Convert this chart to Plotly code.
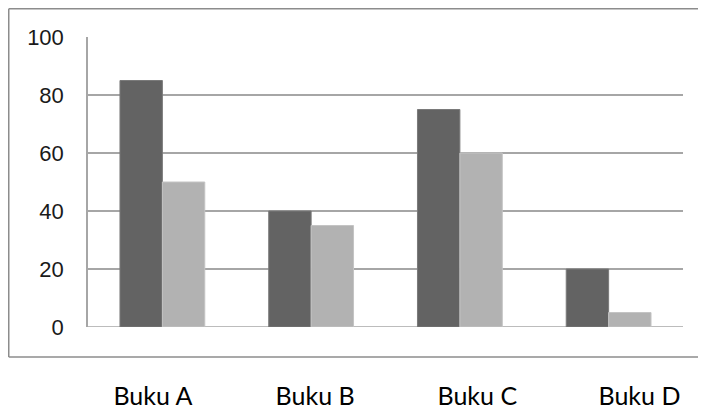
import plotly.graph_objects as go

categories = ["Buku A", "Buku B", "Buku C", "Buku D"]
series1 = [85, 40, 75, 20]
series2 = [50, 35, 60, 5]
y_ticks = [0, 20, 40, 60, 80, 100]

fig = go.Figure()
fig.add_trace(go.Bar(x=categories, y=series1, marker=dict(color="#636363", line=dict(color="#7a7a7a", width=1)), showlegend=False))
fig.add_trace(go.Bar(x=categories, y=series2, marker=dict(color="#b2b2b2", line=dict(color="#c4c4c4", width=1)), showlegend=False))
# invisible carrier trace for the separately spaced category label row
fig.add_trace(go.Scatter(x=categories, y=series1, xaxis="x2", mode="markers",
                         marker=dict(opacity=0), hoverinfo="skip", showlegend=False))

# page is offset by the 8px body margin; figure coords = page coords - 8
W, H = 706, 409
L, T = 80, 29
R = W - (683 - 8)
B = H - (327 - 8)
pw, ph = W - L - R, H - T - B

def px_x(p):
    return (p - L) / pw

def px_y(p):
    return (H - B - p) / ph

border = dict(color="#8c8c8c", width=1.5)
xl, xr = px_x(0.75), px_x(720)
yb, yt = px_y(357 - 8), px_y(0.75)

fig.update_layout(
    width=W, height=H,
    margin=dict(l=L, r=R, t=T, b=B, pad=0),
    plot_bgcolor="white", paper_bgcolor="white",
    barmode="group", bargap=0.43, bargroupgap=0,
    xaxis=dict(
        showgrid=False, showline=False, ticks="", zeroline=False,
        automargin=False, showticklabels=False,
    ),
    xaxis2=dict(
        overlaying="x", side="bottom", type="category",
        range=[-0.4005, 3.2685],
        showgrid=False, showline=False, ticks="", zeroline=False,
        automargin=False,
        tickfont=dict(family="Lato", size=25, color="#000000"),
        ticklabelstandoff=52,
    ),
    yaxis=dict(
        range=[0, 100], tickvals=y_ticks, ticktext=[str(v) for v in y_ticks],
        showgrid=True, gridcolor="#a6a6a6", gridwidth=1.5,
        showline=True, linecolor="#a6a6a6", linewidth=1.5,
        zeroline=False, ticks="", ticklabelstandoff=18, automargin=False,
        tickfont=dict(family="Liberation Sans", size=22, color="#1a1a1a"),
    ),
    shapes=[
        dict(type="line", xref="paper", yref="paper", x0=xl, x1=xr, y0=yt, y1=yt, line=border, layer="below"),
        dict(type="line", xref="paper", yref="paper", x0=xl, x1=xr, y0=yb, y1=yb, line=border, layer="below"),
        dict(type="line", xref="paper", yref="paper", x0=xl, x1=xl, y0=yb, y1=yt, line=border, layer="below"),
        dict(type="line", xref="paper", yref="y", x0=0, x1=1, y0=0, y1=0,
             line=dict(color="#a6a6a6", width=1.5), layer="below"),
    ],
)

fig.write_html("out.html")
